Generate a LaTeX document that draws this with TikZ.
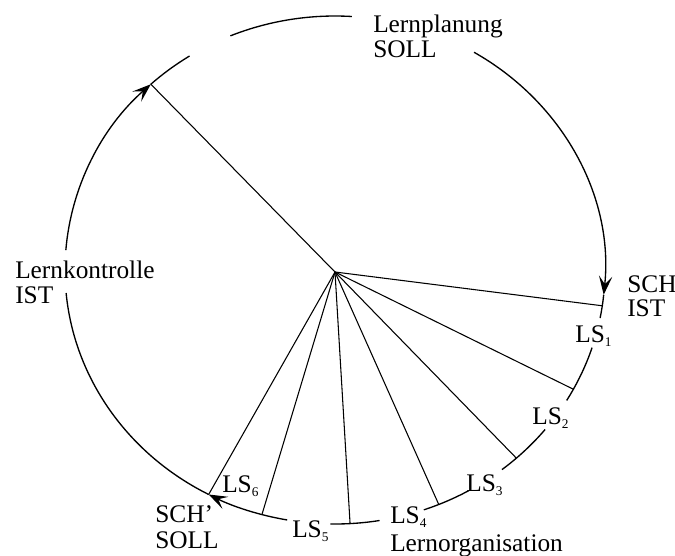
\documentclass[tikz,border=0pt]{standalone}
\usepackage{fontspec}
\setmainfont{Liberation Serif}
\usetikzlibrary{arrows.meta}
\newcommand\LSsub[1]{LS\raisebox{-0.35ex}{\fontsize{10}{10}\selectfont #1}}
\begin{document}
\begin{tikzpicture}[x=0.75pt,y=-0.75pt,
  curve/.style={line width=1pt},
  ray/.style={line width=0.8pt},
  lbl/.style={anchor=base west, inner sep=0pt, font=\fontsize{19}{19}\selectfont},
  tipped/.style={-{Stealth[length=14pt,width=10pt,inset=6pt]}}]
\useasboundingbox (0,0) rectangle (675,556);
\coordinate (c) at (335,270);
\coordinate (hub) at (335,272);
\path (c) ++(8.1:270 and 254) coordinate (p1);
\path (c) ++(28:270 and 254) coordinate (p2);
\path (c) ++(47.8:270 and 254) coordinate (p3);
\path (c) ++(67.4:270 and 254) coordinate (p4);
\path (c) ++(86.8:270 and 254) coordinate (p5);
\path (c) ++(105.7:270 and 254) coordinate (p6);
\path (c) ++(117.9:270 and 254) coordinate (p7);
\path (c) ++(227:270 and 254) coordinate (p8);
% circle arcs
\draw[curve] (c) ++(247.2:270 and 254) arc[start angle=247.2,end angle=273.6,x radius=270,y radius=254];
\draw[curve,tipped] (c) ++(301:270 and 254) arc[start angle=301,end angle=365.6,x radius=270,y radius=254];
\draw[curve] (c) ++(5.6:270 and 254) arc[start angle=5.6,end angle=10.9,x radius=270,y radius=254];
\draw[curve] (c) ++(17.8:270 and 254) arc[start angle=17.8,end angle=30.9,x radius=270,y radius=254];
\draw[curve] (c) ++(38.9:270 and 254) arc[start angle=38.9,end angle=51.8,x radius=270,y radius=254];
\draw[curve] (c) ++(60.3:270 and 254) arc[start angle=60.3,end angle=70.8,x radius=270,y radius=254];
\draw[curve] (c) ++(80.5:270 and 254) arc[start angle=80.5,end angle=91,x radius=270,y radius=254];
\draw[curve,tipped] (c) ++(100.2:270 and 254) arc[start angle=100.2,end angle=117.9,x radius=270,y radius=254];
\draw[curve] (c) ++(117.9:270 and 254) arc[start angle=117.9,end angle=174.8,x radius=270,y radius=254];
\draw[curve,tipped] (c) ++(184.5:270 and 254) arc[start angle=184.5,end angle=227,x radius=270,y radius=254];
\draw[curve] (c) ++(227:270 and 254) arc[start angle=227,end angle=237.4,x radius=270,y radius=254];
% rays
\foreach \p in {p1,p2,p3,p4,p5,p6,p7,p8}
  \draw[ray] (hub) -- (\p);
% labels
\node[lbl] (lp1) at (373,33) {Lernplanung};
\node[lbl] (lp2) at (373,58) {SOLL};
\node[lbl] (sch1) at (627,292) {SCH};
\node[lbl] (sch2) at (627,316) {IST};
\node[lbl] (ls1) at (575,342) {\LSsub{1}};
\node[lbl] (ls2) at (532,424) {\LSsub{2}};
\node[lbl] (ls3) at (466,491) {\LSsub{3}};
\node[lbl] (ls4) at (390,523) {\LSsub{4}};
\node[lbl] (lo) at (390,551) {Lernorganisation};
\node[lbl] (ls5) at (292,537) {\LSsub{5}};
\node[lbl] (ls6) at (222,492) {\LSsub{6}};
\node[lbl] (schs1) at (155,522) {SCH'};
\node[lbl] (schs2) at (155,548) {SOLL};
\node[lbl] (lk1) at (15,278) {Lernkontrolle};
\node[lbl] (lk2) at (15,303) {IST};
\end{tikzpicture}
\end{document}
